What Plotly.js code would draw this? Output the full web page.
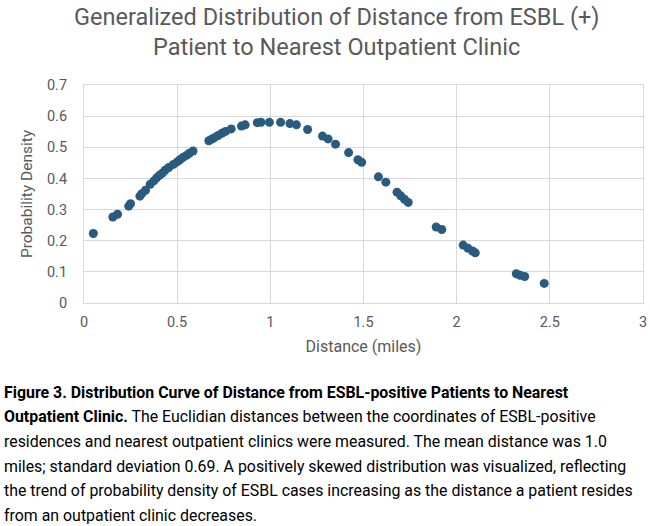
<!DOCTYPE html>
<html>
<head>
<meta charset="utf-8">
<script src="https://cdn.plot.ly/plotly-3.0.1.min.js"></script>
<style>
  html, body { margin: 0; padding: 0; background: #ffffff; }
  #chart { width: 650px; height: 526px; }
</style>
</head>
<body>
<div id="chart"></div>
<script>
// Distance from each ESBL-positive residence to nearest outpatient clinic (miles)
const distanceMiles = [
  0.05, 0.155, 0.18, 0.24, 0.25, 0.30, 0.31, 0.33, 0.355, 0.375,
  0.39, 0.405, 0.42, 0.435, 0.455, 0.48, 0.50, 0.515, 0.53, 0.55,
  0.565, 0.585, 0.67, 0.685, 0.70, 0.72, 0.74, 0.76, 0.79, 0.845,
  0.865, 0.93, 0.95, 0.995, 1.055, 1.105, 1.14, 1.20, 1.28, 1.31,
  1.35, 1.42, 1.47, 1.49, 1.58, 1.62, 1.68, 1.70, 1.72, 1.74,
  1.89, 1.92, 2.035, 2.06, 2.085, 2.10, 2.32, 2.34, 2.365, 2.47
];

// Probability density at each distance
const probDensity = [
  0.223, 0.276, 0.285, 0.311, 0.319, 0.343, 0.351, 0.362, 0.381, 0.392,
  0.402, 0.410, 0.417, 0.426, 0.435, 0.445, 0.453, 0.460, 0.467, 0.474,
  0.481, 0.488, 0.521, 0.526, 0.531, 0.538, 0.545, 0.551, 0.559, 0.568,
  0.572, 0.579, 0.580, 0.580, 0.580, 0.576, 0.572, 0.557, 0.536, 0.527,
  0.510, 0.483, 0.460, 0.452, 0.405, 0.388, 0.356, 0.344, 0.333, 0.323,
  0.244, 0.236, 0.186, 0.176, 0.167, 0.161, 0.094, 0.089, 0.085, 0.063
];

// Axis ticks
const xTickVals = [0, 0.5, 1, 1.5, 2, 2.5, 3];
const xTickText = ['0', '0.5', '1', '1.5', '2', '2.5', '3'];
const yTickVals = [0, 0.1, 0.2, 0.3, 0.4, 0.5, 0.6, 0.7];
const yTickText = ['0', '0.1', '0.2', '0.3', '0.4', '0.5', '0.6', '0.7'];

// Chart title, one entry per line
const titleLines = [
  'Generalized Distribution of Distance from ESBL (+)',
  'Patient to Nearest Outpatient Clinic'
];

// Figure caption, one entry per printed line
const captionLines = [
  '<b>Figure 3. Distribution Curve of Distance from ESBL-positive Patients to Nearest</b>',
  '<b>Outpatient Clinic.</b> The Euclidian distances between the coordinates of ESBL-positive',
  'residences and nearest outpatient clinics were measured. The mean distance was 1.0',
  'miles; standard deviation 0.69. A positively skewed distribution was visualized, reflecting',
  'the trend of probability density of ESBL cases increasing as the distance a patient resides',
  'from an outpatient clinic decreases.'
];

const W = 650, H = 526;
const plotLeft = 83.5, plotRight = 643.5, plotTop = 84.7, plotBottom = 302.7;
const plotW = plotRight - plotLeft, plotH = plotBottom - plotTop;

const axisGray = '#595959';
const gridGray = '#d9d9d9';
const uiFont = 'Roboto, "Liberation Sans", sans-serif';

// pixel position -> paper coordinates
const px = v => (v - plotLeft) / plotW;
const py = v => (plotBottom - v) / plotH;

const titleTop = 17, titleStep = 30;
const titleAnnotations = titleLines.map((line, i) => ({
  xref: 'paper', yref: 'paper',
  x: px(336), y: py(titleTop + i * titleStep),
  xanchor: 'center', yanchor: 'middle',
  showarrow: false,
  text: line,
  font: { family: uiFont, size: 23.5, color: axisGray }
}));

const captionTop = 392, captionStep = 24.6;
const captionAnnotations = captionLines.map((line, i) => ({
  xref: 'paper', yref: 'paper',
  x: px(1.5), y: py(captionTop + i * captionStep),
  xanchor: 'left', yanchor: 'middle',
  showarrow: false,
  align: 'left',
  text: line,
  font: { family: uiFont, size: 15.9, color: '#000000' }
}));

const trace = {
  type: 'scatter',
  mode: 'markers',
  x: distanceMiles,
  y: probDensity,
  marker: { color: '#285b7f', size: 9, line: { width: 0 } },
  hoverinfo: 'x+y'
};

const layout = {
  width: W, height: H,
  margin: { l: plotLeft, r: W - plotRight, t: plotTop, b: H - plotBottom },
  paper_bgcolor: '#ffffff',
  plot_bgcolor: '#ffffff',
  showlegend: false,
  xaxis: {
    range: [0, 3],
    tickvals: xTickVals, ticktext: xTickText,
    showgrid: true, gridcolor: gridGray, gridwidth: 1,
    zeroline: false,
    showline: true, mirror: true, linecolor: gridGray, linewidth: 1,
    ticks: '', ticklabelstandoff: 6,
    tickfont: { family: uiFont, size: 14.5, color: axisGray },
    title: { text: 'Distance (miles)', standoff: 10,
             font: { family: uiFont, size: 16, color: axisGray } },
    fixedrange: true
  },
  yaxis: {
    range: [0, 0.7],
    tickvals: yTickVals, ticktext: yTickText,
    showgrid: true, gridcolor: gridGray, gridwidth: 1,
    zeroline: false,
    showline: true, mirror: true, linecolor: gridGray, linewidth: 1,
    ticks: '', ticklabelstandoff: 13,
    tickfont: { family: uiFont, size: 14.5, color: axisGray },
    title: { text: 'Probability Density', standoff: 10,
             font: { family: uiFont, size: 15.5, color: axisGray } },
    fixedrange: true
  },
  annotations: titleAnnotations.concat(captionAnnotations)
};

Plotly.newPlot('chart', [trace], layout, { displayModeBar: false, staticPlot: true });
</script>
</body>
</html>
